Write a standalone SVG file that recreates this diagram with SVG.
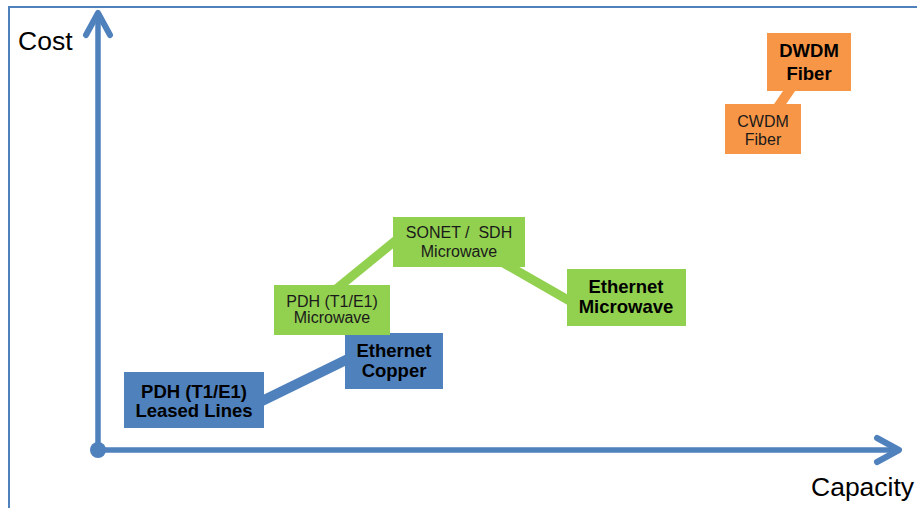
<svg xmlns="http://www.w3.org/2000/svg" width="917" height="508" viewBox="0 0 917 508">
<defs>
<marker id="chev" markerUnits="userSpaceOnUse" viewBox="-30 -20 40 40" markerWidth="40" markerHeight="40" refX="0" refY="0" orient="auto" overflow="visible">
<path d="M-22,-12 L0,0 L-22,12" fill="none" stroke="#4F81BD" stroke-width="6" stroke-linecap="round" stroke-linejoin="round"/>
</marker>
<style>
.frame{fill:none;stroke:#4F81BD;stroke-width:2}
.axis{fill:none;stroke:#4F81BD;stroke-width:5.5}
.blue{fill:#4F81BD}
.green{fill:#92D050}
.orange{fill:#F79646}
.cb{stroke:#4F81BD;stroke-width:10}
.cg{stroke:#92D050;stroke-width:9}
.co{stroke:#F79646;stroke-width:10}
text{font-family:"Liberation Sans",Arial,sans-serif;fill:#000;text-anchor:middle}
.b{font-weight:bold;font-size:18.5px}
.r{font-size:16px;fill:#1a1a1a}
.lab{font-size:26.5px;text-anchor:start}
</style>
</defs>
<rect width="917" height="508" fill="#fff"/>
<path class="frame" d="M9,508 V7 H917"/>
<g id="axes">
<line class="axis" x1="98" y1="450" x2="98" y2="13" marker-end="url(#chev)"/>
<line class="axis" x1="98" y1="450" x2="899" y2="450" marker-end="url(#chev)"/>
<circle cx="98" cy="450" r="8" fill="#4F81BD"/>
<text class="lab" x="18" y="50">Cost</text>
<text class="lab" x="811" y="496">Capacity</text>
</g>
<g id="connectors">
<line class="cb" x1="260" y1="402" x2="350" y2="358"/>
<line class="cg" x1="335" y1="290" x2="400" y2="237"/>
<line class="cg" x1="500" y1="261" x2="575" y2="304"/>
<line class="co" x1="809" y1="62" x2="763" y2="129"/>
</g>
<g id="pdh-leased">
<rect class="blue" x="124" y="372" width="140" height="56"/>
<text class="b" x="194" y="398">PDH (T1/E1)</text>
<text class="b" x="194" y="417">Leased Lines</text>
</g>
<g id="eth-copper">
<rect class="blue" x="345" y="333" width="98" height="56"/>
<text class="b" x="394" y="357">Ethernet</text>
<text class="b" x="394" y="377">Copper</text>
</g>
<g id="pdh-mw">
<rect class="green" x="274" y="285" width="116" height="50"/>
<text class="r" x="332" y="307">PDH (T1/E1)</text>
<text class="r" x="332" y="323">Microwave</text>
</g>
<g id="sonet-mw">
<rect class="green" x="393" y="217" width="132" height="50"/>
<text class="r" x="459" y="238" xml:space="preserve">SONET /  SDH</text>
<text class="r" x="459" y="257">Microwave</text>
</g>
<g id="eth-mw">
<rect class="green" x="567" y="269" width="119" height="57"/>
<text class="b" x="626" y="293">Ethernet</text>
<text class="b" x="626" y="313">Microwave</text>
</g>
<g id="cwdm">
<rect class="orange" x="725" y="104" width="76" height="50"/>
<text class="r" x="763" y="127">CWDM</text>
<text class="r" x="763" y="145">Fiber</text>
</g>
<g id="dwdm">
<rect class="orange" x="767" y="33" width="84" height="58"/>
<text class="b" x="809" y="57">DWDM</text>
<text class="b" x="809" y="80">Fiber</text>
</g>
</svg>
